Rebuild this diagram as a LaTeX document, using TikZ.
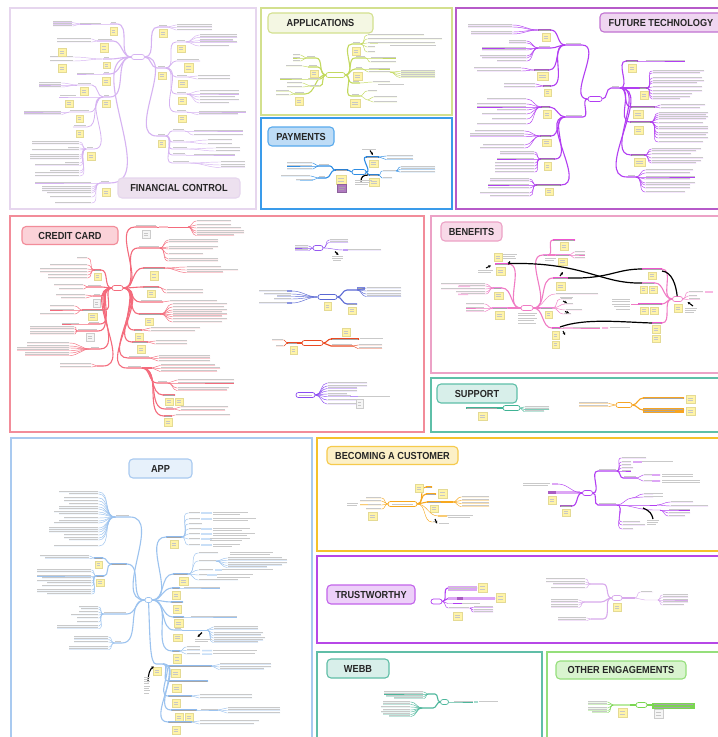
\documentclass[tikz,border=0pt]{standalone}
\usepackage{fontspec}
\setmainfont{Liberation Sans}
\usetikzlibrary{arrows.meta,calc}

% branch colours
\definecolor{fcC}{HTML}{D6B3F2}
\definecolor{apC}{HTML}{C3D95F}
\definecolor{apH}{HTML}{DDE9A8}
\definecolor{pyC}{HTML}{2E8DE4}
\definecolor{pyD}{HTML}{2B7FD0}
\definecolor{pyL}{HTML}{A9D2F5}
\definecolor{ftC}{HTML}{B23EF2}
\definecolor{ftD}{HTML}{A95BC2}
\definecolor{ftL}{HTML}{DDA6F5}
\definecolor{ccC}{HTML}{F46B7C}
\definecolor{ccD}{HTML}{EE7684}
\definecolor{cvA}{HTML}{9558F0}
\definecolor{cvB}{HTML}{5A68D4}
\definecolor{cvC}{HTML}{EA4A22}
\definecolor{cvD}{HTML}{8C4CF2}
\definecolor{bnC}{HTML}{F07BC4}
\definecolor{bnM}{HTML}{EE55CF}
\definecolor{bnH}{HTML}{F8B8E2}
\definecolor{spT}{HTML}{3FB394}
\definecolor{spO}{HTML}{F6A422}
\definecolor{abC}{HTML}{9CC3EF}
\definecolor{abD}{HTML}{8EB9EC}
\definecolor{abH}{HTML}{C9DFF7}
\definecolor{bcO}{HTML}{F7A81E}
\definecolor{bcH}{HTML}{F9CB73}
\definecolor{trL}{HTML}{D8A9EC}
\definecolor{wbT}{HTML}{4DB79C}
\definecolor{oeG}{HTML}{7AD651}
\definecolor{oeL}{HTML}{B9EBA0}
\definecolor{stY}{HTML}{FFF4A8}
\definecolor{stB}{HTML}{E4DA94}
\definecolor{stP}{HTML}{B07AC0}
% panel colours
\definecolor{pFin}{HTML}{E6D6EE}\definecolor{tFin}{HTML}{EDE1EF}
\definecolor{pApp}{HTML}{D3E08E}\definecolor{tApp}{HTML}{F4F7E3}
\definecolor{pPay}{HTML}{3A9BEA}\definecolor{tPay}{HTML}{BEDCF6}
\definecolor{pFut}{HTML}{B65AC9}\definecolor{tFut}{HTML}{EFD6F1}
\definecolor{pCC}{HTML}{F28C99}\definecolor{tCC}{HTML}{FBD2D8}
\definecolor{pBen}{HTML}{ECA2C6}\definecolor{tBen}{HTML}{F8D9E8}
\definecolor{pSup}{HTML}{5EBFA8}\definecolor{tSup}{HTML}{D8EFEA}
\definecolor{pAb}{HTML}{A9CAF0}\definecolor{tAb}{HTML}{E7F1FB}
\definecolor{pBec}{HTML}{F5C12C}\definecolor{tBec}{HTML}{FCF0C7}
\definecolor{pTru}{HTML}{B747E7}\definecolor{tTru}{HTML}{EDD0F9}
\definecolor{pWeb}{HTML}{60BEA7}\definecolor{tWeb}{HTML}{D8EFEA}
\definecolor{pOth}{HTML}{95DF7B}\definecolor{tOth}{HTML}{D9F4CF}

% helpers: a line of small text, a sticky note, a highlighted label, leaves
\newcommand\txl[3]{\draw[txt] ({#1},{#3}) -- ({#2},{#3});}
\newcommand\stk[4]{\draw[stky] (#1,#2) rectangle (#3,#4);
  \draw[stxt] ({#1+1.6},{#2+0.35*(#4-#2)}) -- ({#3-1.6},{#2+0.35*(#4-#2)})
              ({#1+1.6},{#2+0.65*(#4-#2)}) -- ({#3-2.4},{#2+0.65*(#4-#2)});}
\newcommand\stw[4]{\draw[stkw] (#1,#2) rectangle (#3,#4);
  \draw[stxt] ({#1+1.6},{#2+0.35*(#4-#2)}) -- ({#3-1.6},{#2+0.35*(#4-#2)})
              ({#1+1.6},{#2+0.65*(#4-#2)}) -- ({#3-2.4},{#2+0.65*(#4-#2)});}
\newcommand\hbx[4]{\fill[#1] ({#2},{#4-1.5}) rectangle ({#3},{#4+1.4});
  \draw[draw=black!35, line width=.45pt] ({#2+1},{#4-0.1}) -- ({#3-1},{#4-0.1});}
\newcommand\lfR[5]{\draw[lvs=#1] (#2) to[out=0,in=180] (#3,#4) -- ++(#5,0);
  \draw[txt] ({#3+0.8},{#4-1.1}) -- ({#3+#5},{#4-1.1});}
\newcommand\lfL[5]{\draw[lvs=#1] (#2) to[out=180,in=0] (#3,#4) -- ++(-#5,0);
  \draw[txt] ({#3-0.8},{#4-1.1}) -- ({#3-#5},{#4-1.1});}
\newcommand\ttltext[1]{\scalebox{0.9}[1]{#1}}

\begin{document}
\begin{tikzpicture}[x=1pt,y=-1pt,
  panel/.style={draw=#1, line width=1.6pt},
  ttl/.style={rounded corners=4pt, line width=1.1pt, inner sep=0pt, text=black!85,
    font=\fontsize{10.2}{12}\selectfont\bfseries},
  txt/.style={draw=black!21, line width=.55pt},
  stky/.style={fill=stY, draw=stB, line width=.35pt},
  stkw/.style={fill=black!4, draw=black!20, line width=.35pt},
  stxt/.style={draw=black!22, line width=.4pt},
  cen/.style={draw=#1, fill=white, rounded corners=2.4pt, line width=.7pt,
    minimum height=5pt, inner sep=0pt},
  brn/.style={draw=#1, line width=1.1pt},
  lvs/.style={draw=#1, line width=.45pt},
  blk/.style={draw=black, line width=1.2pt},
  arr/.style={draw=black, line width=1.1pt, -{Stealth[length=2.6pt,width=2.6pt]}}]

\useasboundingbox (0,0) rectangle (718,737);
\fill[white] (0,0) rectangle (718,737);

% ---------------- panels
\draw[panel=pFin] (10,8) rectangle (256,209);
\draw[panel=pApp] (261,8) rectangle (452,115);
\draw[panel=pPay] (261,118) rectangle (452,209);
\draw[panel=pFut] (456,8) rectangle (724,209);
\draw[panel=pCC] (10,216) rectangle (424,432);
\draw[panel=pBen] (431,216) rectangle (724,373);
\draw[panel=pSup] (431,378) rectangle (724,432);
\draw[panel=pAb] (11,438) rectangle (312,745);
\draw[panel=pBec] (317,438) rectangle (724,551);
\draw[panel=pTru] (317,556) rectangle (724,643);
\draw[panel=pWeb] (317,652) rectangle (542,745);
\draw[panel=pOth] (547,652) rectangle (724,745);

% ================= financial control
\node[cen=fcC, minimum width=13pt] (fc) at (138,57) {};
\coordinate (fcR1) at (168,27);
\coordinate (fcR2) at (166,68);
\coordinate (fcR3) at (166,136);
\draw[brn=fcC] (fc) to[out=0,in=180] (158,27) -- (fcR1);
\draw[brn=fcC] (fc) to[out=0,in=180] (157,68) -- (fcR2);
\draw[brn=fcC] (fc) to[out=0,in=180] (157,136) -- (fcR3);
\txl{159}{167}{25.6} \txl{158}{165}{66.6} \txl{158}{165}{134.6}
\stk{159}{29}{167}{37} \stk{158}{72}{166}{79} \stk{158}{140}{165}{147}
\foreach \y in {25,27.5,30}{\lfR{fcC}{fcR1}{176}{\y}{36}}
\foreach \y/\e/\n in {42/186/a,61/200/b,77/188/c,94/187/d,112/187/e}{
  \draw[brn=fcC, line width=.8pt] (fcR2) to[out=0,in=180] (176,\y) -- (\e,\y) coordinate (fcS\n);
  \txl{177}{\e-1}{\y-1.4}}
\stk{177}{45}{185}{52} \stk{184}{63}{193}{72} \stk{178}{80}{187}{87} \stk{178}{97}{186}{104} \stk{178}{115}{186}{122}
\foreach \y/\w in {35/38,37.3/38,40.7/34,42.7/38,46/30}{\lfR{fcC}{fcSa}{199}{\y}{\w}}
\foreach \y in {76,79}{\lfR{fcC}{fcSc}{197}{\y}{33}}
\foreach \y/\w in {91/40,94/40,97/36,100/40,103/30}{\lfR{fcC}{fcSd}{199}{\y}{\w}}
\foreach \y/\w in {112/48,114.5/40}{\lfR{fcC}{fcSe}{198}{\y}{\w}}
\foreach \y/\e/\n in {131/185/a,142/185/b,149/188/c,155/186/d,163/190/e}{
  \draw[brn=fcC, line width=.8pt] (fcR3) to[out=0,in=180] (172,\y) -- (\e,\y) coordinate (fcT\n);
  \txl{173}{\e-1}{\y-1.4}}
\foreach \y in {131,135}{\lfR{fcC}{fcTa}{193}{\y}{50}}
\foreach \y in {140,144}{\lfR{fcC}{fcTb}{207}{\y}{25}}
\foreach \y in {148,151}{\lfR{fcC}{fcTc}{215}{\y}{25}}
\lfR{fcC}{fcTd}{193}{155}{42}
\foreach \y in {162,165,167.5}{\lfR{fcC}{fcTe}{220}{\y}{25}}
% left side
\coordinate (fcL1) at (110,24);
\coordinate (fcL2) at (97,41);
\coordinate (fcL3) at (103,59);
\coordinate (fcL4) at (103,74);
\coordinate (fcL5) at (103,97);
\coordinate (fcL6) at (100,183);
\draw[brn=fcC] (fc) to[out=180,in=0] (117,24) -- (fcL1);
\draw[brn=fcC] (fc) to[out=180,in=0] (113,41) -- (fcL2);
\draw[brn=fcC] (fc) to[out=180,in=0] (110,59) -- (fcL3);
\draw[brn=fcC] (fc) to[out=180,in=0] (110,74) -- (fcL4);
\draw[brn=fcC] (fc) to[out=180,in=0] (110,97) -- (fcL5);
\draw[brn=fcC] (fc) to[out=180,in=0] (110,183) -- (fcL6);
\txl{111}{116}{22.6} \txl{98}{112}{39.6} \txl{104}{109}{57.6} \txl{104}{109}{72.6} \txl{104}{109}{95.6} \txl{101}{109}{181.6}
\stk{110}{27}{117}{35} \stk{100}{43}{108}{52} \stk{103}{62}{110}{68} \stk{102}{77}{110}{85} \stk{102}{100}{110}{107} \stk{102}{188}{110}{196}
\lfL{fcC}{fcL1}{102}{24}{22}
\coordinate (fcL1b) at (80,24);
\foreach \y in {22.7,24.3,26}{\lfL{fcC}{fcL1b}{73}{\y}{20}}
\foreach \y in {39,42}{\lfL{fcC}{fcL2}{92}{\y}{35}}
\foreach \y in {57,61}{\lfL{fcC}{fcL3}{74}{\y}{24}}
\stk{58}{48}{66}{56} \stk{58}{64}{66}{72}
\lfL{fcC}{fcL4}{95}{74}{18}
\foreach \x/\y/\w/\n in {92/85/15/a,77/97/18/b,90/112/21/c,87/127/14/d,94/149/8/e}{
  \draw[brn=fcC, line width=.8pt] (fcL5) to[out=180,in=0] (\x,\y) -- ++(-\w,0) coordinate (fcU\n);
  \txl{\x-\w+1}{\x-1}{\y-1.4}}
\stk{80}{87}{88}{95} \stk{65}{100}{73}{107} \stk{76}{115}{83}{122} \stk{76}{130}{83}{137} \stk{87}{152}{95}{160}
\foreach \y in {83,85,87}{\lfL{fcC}{fcUa}{62}{\y}{23}}
\foreach \y in {112,114.5}{\lfL{fcC}{fcUc}{62}{\y}{38}}
\foreach \y/\w in {142/48,144/48,148/12,150/48,155/50,157/50,159/50,163/15,165.5/45,171/30,173/45,176/45}{\lfL{fcC}{fcUe}{80}{\y}{\w}}
\foreach \y/\w in {183/57,187/50,189/50,191/50,193/45,197/42,203/37}{\lfL{fcC}{fcL6}{92}{\y}{\w}}

% ================= applications
\node[cen=apC, minimum width=19pt] (ap) at (335.5,75) {};
\draw[brn=apC] (ap) to[out=0,in=180] (352,44) -- (361,44) coordinate (apR1);
\draw[brn=apC] (ap) to[out=0,in=180] (355,58) -- (366,58) coordinate (apR2);
\draw[brn=apC] (ap) to[out=0,in=180] (355,69) -- (363,69) coordinate (apR3);
\draw[brn=apC] (ap) to[out=0,in=180] (352,83) -- (360,83) coordinate (apR4);
\draw[brn=apC] (ap) to[out=0,in=180] (351,96) -- (360,96) coordinate (apR5);
\txl{353}{360}{42.6} \txl{356}{365}{56.6} \txl{356}{362}{67.6} \txl{353}{359}{81.6} \txl{352}{359}{94.6}
\stk{352}{47}{360}{55} \stk{353}{72}{362}{80} \stk{350}{99}{360}{107}
\foreach \y/\w in {35/57,39/75,43/68,47/8,52/8}{\lfR{apC}{apR1}{367}{\y}{\w}}
\txl{390}{436}{45.5}
\fill[apH] (370,42.5) rectangle (378,44);
\foreach \y in {58,62}{\lfR{apC}{apR2}{370}{\y}{26}}
\foreach \y in {69,72}{\lfR{apC}{apR3}{368}{\y}{22}}
\coordinate (apR3b) at (390,72);
\foreach \y in {71.5,73.5,75.5,77.5}{\lfR{apC}{apR3b}{400}{\y}{35}}
\lfR{apC}{apR4}{372}{82}{18} \txl{378}{404}{84.5}
\lfR{apC}{apR5}{367}{91}{10}
\draw[lvs=apC] (apR5) to[out=0,in=180] (368,100) coordinate (apR5b);
\foreach \y in {97,102}{\lfR{apC}{apR5b}{373}{\y}{24}}
\draw[brn=apC] (ap) to[out=180,in=0] (316,58) -- (306,58) coordinate (apL1);
\draw[brn=apC] (ap) to[out=180,in=0] (318,67) -- (308,67) coordinate (apL2);
\draw[brn=apC] (ap) to[out=180,in=0] (320,79) -- (308,79) coordinate (apL3);
\draw[brn=apC] (ap) to[out=180,in=0] (320,86) -- (310,86) coordinate (apL4);
\draw[brn=apC] (ap) to[out=180,in=0] (305,94) -- (294,94) coordinate (apL5);
\fill[apH] (308,77.6) rectangle (320,80.2); \fill[apH] (310,84.6) rectangle (320,87.2);
\txl{307}{315}{56.6} \txl{309}{317}{65.6} \txl{309}{319}{78} \txl{311}{319}{85} \txl{295}{304}{92.6}
\stk{310}{70}{318}{77} \stk{295}{97}{303}{105}
\foreach \y in {55,58,61}{\lfL{apC}{apL1}{301}{\y}{8}}
\lfL{apC}{apL2}{303}{66}{17}
\lfL{apC}{apL3}{303}{79}{23}
\foreach \y in {83,87}{\lfL{apC}{apL4}{303}{\y}{16}}
\foreach \y in {91.5,95}{\lfL{apC}{apL5}{290}{\y}{14}}

% ================= payments
\node[cen=pyC, minimum width=14pt] (py) at (359,172) {};
\draw[brn=pyC] (py) to[out=180,in=0] (348,170) -- (335,170) coordinate (pyL);
\hbx{pyD}{335}{348}{170}
\stk{336}{175}{346}{184}
\draw[fill=stP, draw=stP!80!black, line width=.35pt] (337,184) rectangle (346,192);
\draw[draw=black!35, line width=.45pt] (338.5,187) -- (344.5,187) (338.5,189.5) -- (343.5,189.5);
\draw[brn=pyC] (pyL) to[out=180,in=0] (330,166) -- (318,166) coordinate (pyL1);
\draw[brn=pyC] (pyL) to[out=180,in=0] (326,178) -- (318,178) coordinate (pyL2);
\txl{319}{329}{164.6} \txl{319}{325}{176.6}
\foreach \y in {163,166,169}{\lfL{pyC}{pyL1}{313}{\y}{26}}
\lfL{pyC}{pyL2}{311}{176}{30}
\fill[pyL] (300,178.8) rectangle (313,180.6);
\lfL{pyC}{pyL2}{313}{180}{17}
\draw[brn=pyC] (py) to[out=0,in=180] (366,157) -- (379,157) coordinate (pyR1);
\hbx{pyD}{366}{379}{157}
\stk{369}{160}{378}{167}
\foreach \y in {156,159.5}{\lfR{pyC}{pyR1}{386}{\y}{27}}
\draw[arr] (370,150.5) -- (373,155);
\txl{362}{376}{149.4}
\draw[brn=pyC] (py) to[out=0,in=180] (369,175) -- (379,175) coordinate (pyR2);
\hbx{pyD}{369}{379}{175}
\stk{369}{178}{379}{186}
\lfR{pyC}{pyR2}{382}{171}{14}
\coordinate (pyR2b) at (396,171);
\foreach \y in {167,169.5,172}{\lfR{pyC}{pyR2b}{400}{\y}{35}}
\lfR{pyC}{pyR2}{382}{178}{10}
\draw[blk] (361,181.5) .. controls (361,177) and (363,175) .. (368,175);
\txl{355}{372}{180.5} \txl{355}{370}{182.5} \txl{355}{368}{184.5}

% ================= future technology
\node[cen=ftC, minimum width=14pt] (ft) at (595,99) {};
\draw[brn=ftC] (ft) to[out=180,in=0] (582,45) -- (565,45) coordinate (ftH1);
\draw[brn=ftC] (ft) to[out=180,in=0] (583,117) -- (565,117) coordinate (ftH2);
\txl{566}{581}{43.6} \txl{566}{582}{115.6}
\draw[brn=ftC] (ftH1) to[out=180,in=0] (551,30) -- (538,30) coordinate (ftA1);
\draw[brn=ftC] (ftH1) to[out=180,in=0] (551,48) -- (538,48) coordinate (ftA2);
\draw[brn=ftC] (ftH1) to[out=180,in=0] (549,70) -- (534,70) coordinate (ftA3);
\draw[brn=ftC] (ftH1) to[out=180,in=0] (551,86) -- (543,86) coordinate (ftA4);
\hbx{ftD}{538}{551}{30} \hbx{ftD}{534}{549}{70} \hbx{ftD}{543}{551}{86}
\txl{539}{550}{46.6}
\stk{542}{33}{550}{41} \stk{537}{72}{548}{80} \stk{544}{89}{551}{96}
\foreach \y/\w in {25/45,27/45,32/42,34/42}{\lfL{ftC}{ftA1}{513}{\y}{\w}}
\foreach \y/\w in {41/18,43/18,48/45,50/45,56/47,58/45,61/30}{\lfL{ftC}{ftA2}{527}{\y}{\w}}
\foreach \y/\w in {68/48,71/45}{\lfL{ftC}{ftA3}{522}{\y}{\w}}
\foreach \y/\w in {84/32,87/32}{\lfL{ftC}{ftA4}{536}{\y}{\w}}
\draw[brn=ftC] (ftH2) to[out=180,in=0] (550,107) -- (541,107) coordinate (ftB1);
\draw[brn=ftC] (ftH2) to[out=180,in=0] (551,136) -- (540,136) coordinate (ftB2);
\draw[brn=ftC] (ftH2) to[out=180,in=0] (555,159) -- (540,159) coordinate (ftB3);
\draw[brn=ftC] (ftH2) to[out=180,in=0] (561,185) -- (536,185) coordinate (ftB4);
\hbx{ftD}{541}{550}{107} \hbx{ftD}{540}{551}{136} \hbx{ftD}{540}{555}{159} \hbx{ftD}{536}{561}{185}
\stk{543}{110}{551}{118} \stk{542}{139}{551}{146} \stk{544}{162}{551}{170} \stk{545}{188}{553}{195}
\foreach \y/\w in {99/40,104/50,107/50,110/30,114/45,119/35,124/50}{\lfL{ftC}{ftB1}{527}{\y}{\w}}
\foreach \y/\w in {131/50,134/55,136.5/55,145/42,148/45}{\lfL{ftC}{ftB2}{525}{\y}{\w}}
\foreach \y/\w in {152/35,154/35,159/38,163/40,166/40,169/40,172/40}{\lfL{ftC}{ftB3}{535}{\y}{\w}}
\foreach \y/\w in {179/40,181/40,185/42,188/42,193/50,196/40}{\lfL{ftC}{ftB4}{530}{\y}{\w}}
\draw[brn=ftC] (ft) to[out=0,in=180] (611,88) -- (620,88) coordinate (ftH3);
\txl{612}{619}{86.6}
\draw[brn=ftC] (ftH3) to[out=0,in=180] (626,61) -- (638,61) coordinate (ftC1);
\draw[brn=ftC] (ftH3) -- (639,88) -- (647,88) coordinate (ftC2);
\draw[brn=ftC] (ftH3) to[out=0,in=180] (631,107) -- (655,107) coordinate (ftC3);
\draw[brn=ftC] (ftH3) to[out=0,in=180] (630,122) -- (651,122) coordinate (ftC4);
\draw[brn=ftC] (ftH3) to[out=0,in=180] (631,155) -- (645,155) coordinate (ftC5);
\draw[brn=ftC] (ftH3) to[out=0,in=180] (627,177) -- (636,177) coordinate (ftC6);
\hbx{ftD}{626}{638}{61} \hbx{ftD}{639}{647}{88} \hbx{ftD}{631}{655}{107} \hbx{ftD}{630}{651}{122} \hbx{ftD}{631}{645}{155}
\txl{628}{635}{175.6}
\stk{628}{64}{636}{72} \stk{640}{91}{648}{99} \stk{633}{110}{643}{118} \stk{634}{126}{643}{134} \stk{634}{158}{645}{166}
\lfR{ftC}{ftC1}{645}{61}{40}
\foreach \y/\w in {71/52,73/48,78/50,81/52,83/45,87/50,91/50,94/40,97/38,99/28}{\lfR{ftC}{ftC2}{652}{\y}{\w}}
\foreach \y/\w in {105/45,108/40}{\lfR{ftC}{ftC3}{660}{\y}{\w}}
\foreach \y/\w in {113/50,115/48,117/50,119/48,123/45,127/50,129/50,133/50,135/48,138/50,142/45}{\lfR{ftC}{ftC4}{658}{\y}{\w}}
\foreach \y/\w in {149/50,151/45,154/40,158/52,161/50,163/45}{\lfR{ftC}{ftC5}{651}{\y}{\w}}
\foreach \y/\w in {170/48,173/45,177/50,179/45,183/50,185/45,188/45,192/40}{\lfR{ftC}{ftC6}{645}{\y}{\w}}

% ================= credit card
\node[cen=ccC, minimum width=11pt] (cc) at (117.5,288) {};
\draw[brn=ccC] (cc) to[out=180,in=0] (101,270) -- (94,270) coordinate (ccL1);
\hbx{ccD}{94}{101}{270} \stk{94}{273}{101}{280}
\foreach \y/\w in {258/11,265/38,269/48,272/48,275/40,278/40}{\lfL{ccC}{ccL1}{88}{\y}{\w}}
\draw[brn=ccC] (cc) to[out=180,in=0] (102,287) -- (87,287) coordinate (ccL2);
\txl{88}{101}{285.6}
\foreach \y/\w in {285/30,289/25}{\lfL{ccC}{ccL2}{84}{\y}{\w}}
\draw[brn=ccC] (cc) to[out=180,in=0] (101,296) -- (93,296) coordinate (ccL3);
\txl{94}{100}{294.6}
\foreach \y/\w in {295/30,298/25}{\lfL{ccC}{ccL3}{86}{\y}{\w}}
\stw{93}{299}{100}{307}
\draw[brn=ccC] (cc) to[out=180,in=0] (105,310) -- (82,310) coordinate (ccL4);
\hbx{ccD}{82}{105}{310} \stk{88}{313}{97}{320}
\foreach \y/\w in {306/25,310/25,314/35}{\lfL{ccC}{ccL4}{75}{\y}{\w}}
\draw[brn=ccC] (cc) to[out=180,in=0] (100,324) -- (88,324) coordinate (ccL5);
\txl{89}{99}{322.6}
\lfL{ccC}{ccL5}{80}{324}{18}
\draw[brn=ccC] (cc) to[out=180,in=0] (98,331) -- (77,331) coordinate (ccL6);
\txl{78}{97}{329.6}
\foreach \y in {327,329,332,334}{\lfL{ccC}{ccL6}{75}{\y}{45}}
\stw{86}{333}{94}{341}
\draw[brn=ccC] (cc) to[out=180,in=0] (100,349) -- (90,349) coordinate (ccL7);
\txl{91}{99}{347.6}
\foreach \y/\w in {343/43,346/43,348/53,350.5/53,353/45,355.5/45}{\lfL{ccC}{ccL7}{70}{\y}{\w}}
\draw[brn=ccC] (cc) to[out=180,in=0] (103,366) -- (97,366) coordinate (ccL8);
\foreach \y in {364,367}{\lfL{ccC}{ccL8}{92}{\y}{32}}
\draw[brn=ccC] (cc) to[out=0,in=180] (135,227) -- (157,227) coordinate (ccR1);
\txl{136}{156}{225.6} \stw{142}{230}{150}{238}
\draw[lvs=ccC] (ccR1) -- (188,227) coordinate (ccR1b);
\fill[ccC!45] (159,226.2) rectangle (168,227.8);
\foreach \y/\w in {221/35,225/35,228/45,231/48,233/48,235.5/38}{\lfR{ccC}{ccR1b}{196}{\y}{\w}}
\draw[brn=ccC] (cc) to[out=0,in=180] (138,248) -- (160,248) coordinate (ccR2);
\txl{139}{159}{246.6}
\foreach \y/\w in {240/50,242/50,247/50,249/45,254/35,259/50,261/50}{\lfR{ccC}{ccR2}{168}{\y}{\w}}
\draw[brn=ccC] (cc) to[out=0,in=180] (143,268) -- (165,268) coordinate (ccR3);
\hbx{ccD}{143}{165}{268} \stk{150}{271}{158}{280}
\foreach \y/\w in {267/35,270/52,272.5/37}{\lfR{ccC}{ccR3}{186}{\y}{\w}}
\draw[brn=ccC] (cc) to[out=0,in=180] (143,287) -- (159,287) coordinate (ccR4);
\hbx{ccD}{143}{159}{287} \stk{147}{290}{155}{297}
\foreach \y in {290,293}{\lfR{ccC}{ccR4}{166}{\y}{37}}
\draw[brn=ccC] (cc) to[out=0,in=180] (140,302) -- (163,302) coordinate (ccR5);
\txl{141}{162}{300.6}
\lfR{ccC}{ccR5}{169}{301}{48}
\draw[brn=ccC] (cc) to[out=0,in=180] (139,314) -- (161,314) coordinate (ccR6);
\hbx{ccD}{139}{161}{314} \stk{145}{318}{153}{325}
\foreach \y/\w in {304/55,307/52,310/55,312/50,314.5/55,316.5/50,319/55,322/50}{\lfR{ccC}{ccR6}{172}{\y}{\w}}
\draw[brn=ccC] (cc) to[out=0,in=180] (134,330) -- (142,330) coordinate (ccR7);
\hbx{ccD}{134}{142}{330} \stk{135}{333}{143}{341}
\foreach \y/\w in {328/50,331/45}{\lfR{ccC}{ccR7}{150}{\y}{\w}}
\draw[brn=ccC] (cc) to[out=0,in=180] (132,342) -- (148,342) coordinate (ccR8);
\hbx{ccD}{132}{148}{342} \stk{137}{345}{145}{353}
\foreach \y in {341,344}{\lfR{ccC}{ccR8}{155}{\y}{32}}
\draw[brn=ccC] (cc) to[out=0,in=180] (128,358) -- (150,358) coordinate (ccR9);
\txl{129}{149}{356.6}
\foreach \y in {356,358.5,361}{\lfR{ccC}{ccR9}{158}{\y}{52}}
\draw[brn=ccC] (cc) to[out=0,in=180] (127,368) -- (142,368) coordinate (ccRa);
\txl{128}{141}{366.6}
\draw[brn=ccC] (ccRa) -- (152,368) coordinate (ccRa0);
\foreach \y/\w in {365.5/55,368.5/60,371.5/57}{\lfR{ccC}{ccRa0}{160}{\y}{\w}}
\draw[brn=ccC] (ccRa) to[out=0,in=180] (157,383) -- (168,383) coordinate (ccRa1);
\txl{158}{167}{381.6}
\foreach \y/\w in {380/57,383/57,388/52,390.5/50}{\lfR{ccC}{ccRa1}{177}{\y}{\w}}
\draw[brn=ccC] (ccRa) to[out=0,in=180] (163,395) -- (175,395) coordinate (ccRa2);
\hbx{ccD}{163}{175}{395} \stk{165}{398}{173}{405} \stk{175}{398}{183}{405}
\draw[brn=ccC] (ccRa) to[out=0,in=180] (165,409) -- (174,409) coordinate (ccRa3);
\txl{166}{173}{407.6}
\foreach \y/\w in {407/48,410.5/45}{\lfR{ccC}{ccRa3}{180}{\y}{\w}}
\draw[brn=ccC] (ccRa) to[out=0,in=180] (164,416) -- (172,416) coordinate (ccRa4);
\hbx{ccD}{164}{172}{416} \stk{164}{418}{172}{426}
\lfR{ccC}{ccRa4}{175}{415}{55}
% small maps beside the card map
\node[cen=cvA, minimum width=10pt] (cA) at (318,248) {};
\foreach \y in {240,242.5}{\lfR{cvA}{cA}{329}{\y}{19}}
\lfR{cvA}{cA}{343}{250}{38}
\fill[cvA!60] (343,249.2) rectangle (348,250.8);
\foreach \y in {246,248,250.5}{\lfL{cvA}{cA}{309}{\y}{14}}
\draw[arr] (335,251.5) -- (338.5,255);
\txl{332}{343}{256.5} \txl{332}{343}{258.2} \txl{333}{341}{259.8}
\node[cen=cvB, minimum width=19pt] (cB) at (327.5,297) {};
\stk{324}{302}{331}{310}
\foreach \y/\w in {291/33,294/28,296.5/15,299/18,303/33}{\lfL{cvB}{cB}{292}{\y}{\w}}
\fill[cvB!70] (287,290.2) rectangle (292,291.8) (287,302.2) rectangle (292,303.8);
\draw[brn=cvB] (cB) to[out=0,in=180] (347,290) -- (357,290) coordinate (cB1);
\hbx{cvB!80}{357}{365}{288.5}
\foreach \y in {288,291,294,296.5}{\lfR{cvB}{cB1}{366}{\y}{35}}
\draw[brn=cvB] (cB) to[out=0,in=180] (347,304) -- (357,304);
\hbx{cvB!70}{347}{357}{304} \stk{348}{307}{356}{314}
\node[cen=cvC, minimum width=21pt] (cC) at (312.5,343) {};
\draw[brn=cvC] (cC) to[out=180,in=0] (298,343) -- (287,343) coordinate (cC1);
\hbx{cvC}{287}{298}{343} \stk{290}{346}{297}{354}
\lfL{cvC}{cC1}{284}{340}{12} \lfL{cvC}{cC1}{284}{346}{8}
\draw[brn=cvC] (cC) to[out=0,in=180] (331,339) -- (359,339) coordinate (cC2);
\hbx{cvC}{331}{359}{339} \txl{360}{383}{338.6} \stk{342}{328}{350}{336}
\draw[brn=cvC] (cC) to[out=0,in=180] (331,346) -- (353,346) coordinate (cC3);
\txl{332}{352}{344.6}
\foreach \y in {345,348.5}{\lfR{cvC}{cC3}{358}{\y}{24}}
\node[cen=cvD, minimum width=19pt] (cD) at (305.5,395) {};
\txl{299}{312}{394.8}
\foreach \y/\w in {383/40,386/40,388.5/30,391/30,394/20,396.5/24,400/30,404/33}{\lfR{cvD}{cD}{327}{\y}{\w}}
\fill[cvD!60] (350,395.8) rectangle (358,397.3); \txl{358}{390}{396}
\stw{356}{399}{363}{408}

% ================= benefits
\node[cen=bnC, minimum width=12pt] (bn) at (527,308) {};
\node[cen=bnC, minimum width=10pt] (bn2) at (677.5,299) {};
\draw[brn=bnC] (bn) to[out=180,in=0] (508,264) -- (495,264) coordinate (bnL1);
\hbx{bnM}{495}{508}{264}
\stk{496}{267}{505}{275} \stk{494}{253}{502}{261}
\txl{503}{517}{254.5} \txl{503}{515}{256.5} \txl{503}{516}{258.5}
\draw[arr] (486,268) -- (491,265.5);
\txl{478}{493}{269.8} \txl{478}{491}{272}
\draw[brn=bnC] (bn) to[out=180,in=0] (502,288) -- (493,288) coordinate (bnL2);
\hbx{bnM!70}{493}{502}{288} \stk{494}{292}{503}{299}
\foreach \y/\w in {284/45,286/27,289/45,292/30,294/25}{\lfL{bnC}{bnL2}{486}{\y}{\w}}
\fill[bnH] (458,285.5) rectangle (470,287) (458,293.5) rectangle (468,295);
\draw[brn=bnC] (bn) to[out=180,in=0] (508,308) -- (492,308) coordinate (bnL3);
\hbx{bnM!70}{492}{508}{308} \stk{495}{311}{504}{319}
\foreach \y in {304,308,311.5}{\lfL{bnC}{bnL3}{485}{\y}{19}}
\foreach \y/\w in {313/19,315.5/17,318/19,320.5/16,323/18}{\txl{518}{518+\w}{\y}}
\draw[brn=bnC] (bn) to[out=0,in=180] (543,255) -- (548,255) coordinate (bnU);
\hbx{bnM!70}{543}{548}{255}
\draw[brn=bnC] (bnU) to[out=0,in=180] (553,240) -- (575,240);
\hbx{bnM}{553}{575}{240} \stk{560}{242}{568}{250}
\draw[brn=bnC] (bnU) -- (555,255) -- (570,255) coordinate (bnU2);
\hbx{bnM!70}{555}{570}{255} \stk{558}{258}{567}{265}
\foreach \y in {252,255,258}{\lfR{bnC}{bnU2}{574}{\y}{11}}
\txl{545}{556}{258} \txl{545}{554}{260.5}
\draw[brn=bnC] (bn) to[out=0,in=180] (553,278) -- (568,278) coordinate (bnM1);
\hbx{bnM}{553}{568}{278} \stk{556}{282}{565}{290}
\draw[arr] (560,276) -- (563,272);
\lfR{bnC}{bn}{555}{294}{43}
\draw[brn=bnC] (bn) to[out=0,in=180] (540,308) -- (553,308) coordinate (bnM3);
\hbx{bnM!70}{540}{553}{308} \stk{545}{311}{552}{318}
\lfR{bnC}{bnM3}{560}{299}{12} \lfR{bnC}{bnM3}{565}{304}{8} \lfR{bnC}{bnM3}{565}{310}{17} \lfR{bnC}{bnM3}{563}{314}{8}
\txl{560}{573}{297.3}
\draw[arr] (563,301) -- (567,303); \draw[arr] (565,311.5) -- (569,313);
\draw[brn=bnC] (bn) to[out=0,in=180] (552,328) -- (560,328) coordinate (bnM4);
\hbx{bnM}{552}{560}{328} \stk{552}{331}{559}{339} \stk{552}{341}{559}{348}
\lfR{bnC}{bnM4}{562}{328}{38}
\fill[bnH] (564,327.2) rectangle (573,328.8) (602,327.2) rectangle (608,328.8);
\txl{610}{630}{327}
\draw[arr] (563,331) -- (565,335);
% right hub
\draw[brn=bnC] (bn2) to[out=180,in=0] (662,269) -- (642,269) coordinate (bnV1);
\hbx{bnM}{642}{662}{269} \stk{648}{272}{656}{279}
\draw[brn=bnC] (bn2) to[out=180,in=0] (655,283) -- (642,283) coordinate (bnV2);
\hbx{bnM!70}{642}{655}{283} \stk{640}{286}{647}{293} \stk{649}{286}{657}{293}
\draw[brn=bnC] (bn2) to[out=180,in=0] (662,304) -- (638,304) coordinate (bnV3);
\hbx{bnM}{638}{662}{304} \stk{640}{307}{648}{314} \stk{650}{307}{658}{314}
\draw[lvs=bnC] (bnV3) -- (631,304);
\foreach \y/\w in {299/18,301.5/18,304/18,306.5/16,309/14}{\txl{630-\w}{630}{\y}}
\draw[brn=bnC] (bn2) to[out=180,in=0] (662,323) -- (652,323) coordinate (bnV4);
\hbx{bnM}{652}{662}{323} \stk{652}{325}{660}{333} \stk{652}{335}{660}{342}
\stk{674}{304}{682}{312}
\lfR{bnC}{bn2}{688}{292}{15}
\fill[bnH] (705,291.2) rectangle (713,292.8);
\lfR{bnC}{bn2}{688}{296}{9} \lfR{bnC}{bn2}{688}{299.5}{12}
\txl{685}{697}{308} \txl{685}{696}{310} \txl{685}{694}{312}
\draw[arr] (693,306) -- (687.5,302);
% black links across the map
\coordinate (bk1) at (509,263.5);
\draw[blk] (bk1) .. controls (585,262) and (600,284) .. (bnV2);
\draw[blk] (bnM1) .. controls (610,279) and (615,269) .. (bnV1);
\draw[blk] (662,271) .. controls (672,272) and (676,285) .. (bn2);
\draw[blk] (560,327) .. controls (585,318) and (620,322) .. (bnV4);
\draw[arr] (508.5,264.5) -- (510,261);

% ================= support
\node[cen=spT, minimum width=17pt] (st) at (511.5,408) {};
\draw[brn=spT] (st) -- (498,408) coordinate (stL);
\hbx{spT}{466}{498}{408}
\stk{478}{412}{487}{420}
\foreach \y/\w in {407/25,409.3/25,411.5/20}{\lfR{spT}{st}{524}{\y}{\w}}
\node[cen=spO, minimum width=16pt] (so) at (624,405) {};
\foreach \y in {403.5,406.5}{\lfL{spO}{so}{609}{\y}{30}}
\draw[brn=spO] (so) to[out=0,in=180] (643,398) -- (684,398);
\hbx{spO}{643}{684}{398}
\draw[brn=spO] (so) to[out=0,in=180] (643,410) -- (684,410);
\fill[spO] (643,407.8) rectangle (684,412.6);
\draw[draw=black!35, line width=.45pt] (644,409.3) -- (683,409.3) (644,411.4) -- (675,411.4);
\stk{686}{395}{695}{403} \stk{686}{407}{695}{415}

% ================= app
\node[cen=abC, minimum width=7pt] (ab) at (148.5,600) {};
\draw[brn=abC] (ab) to[out=180,in=0] (130,517) -- (115,517) coordinate (abL1);
\txl{116}{129}{515.6}
\foreach \y/\w in {492/40,494/30,498/35,501/35,504/30,507/40,509/40,512/45,514/40,518/35,521/40,523/45,528/50,530/50,532/50,535/35,538/35,540/30,546/45}{\lfL{abC}{abL1}{99}{\y}{\w}}
\draw[brn=abC] (ab) to[out=180,in=0] (127,564) -- (111,564) coordinate (abL2);
\hbx{abD}{111}{127}{564}
\draw[brn=abC] (abL2) to[out=180,in=0] (103,558) -- (94,558) coordinate (abL2a);
\draw[brn=abC] (abL2) to[out=180,in=0] (104,576) -- (96,576) coordinate (abL2b);
\hbx{abD}{94}{103}{558} \hbx{abD}{96}{104}{576}
\stk{95}{561}{102}{568} \stk{96}{579}{104}{586}
\foreach \y/\w in {556/50,558.5/45}{\lfL{abC}{abL2a}{90}{\y}{\w}}
\foreach \y/\w in {570/55,572/55,576/55,578/50,581/55,583/45,586/50,590/55,592/55,594/45}{\lfL{abC}{abL2b}{92}{\y}{\w}}
\draw[brn=abC] (ab) to[out=180,in=0] (127,614) -- (103,614) coordinate (abL3);
\txl{104}{126}{612.6}
\foreach \y/\w in {607/20,609/18,612/20,615/28,618/22,622/22,626/42,628.5/42}{\lfL{abC}{abL3}{99}{\y}{\w}}
\draw[brn=abC] (ab) to[out=180,in=0] (122,643) -- (114,643) coordinate (abL4);
\txl{115}{121}{641.6}
\foreach \y/\w in {637/35,639.5/35,642/35,647/40,649.5/40}{\lfL{abC}{abL4}{109}{\y}{\w}}
\draw[brn=abC] (ab) to[out=0,in=180] (166,537) -- (182,537) coordinate (abR1);
\hbx{abD}{166}{182}{537} \stk{170}{540}{178}{548}
\foreach \y/\w in {513/12,519/12,524/14,529/14,534/12,539/12,545/12}{\lfR{abC}{abR1}{188}{\y}{\w}}
\foreach \y/\a/\b in {513/213/248,519/213/256,529/213/250,534/213/255,539/210/250,545/213/240}{
  \fill[abH] (201,{\y-0.8}) rectangle (212,{\y+0.8}); \txl{\a}{\b}{\y-0.5} \txl{\a}{\b-8}{\y+1.5}}
\draw[brn=abC] (ab) to[out=0,in=180] (173,574) -- (188,574) coordinate (abR2);
\hbx{abD}{173}{188}{574} \stk{179}{577}{188}{585}
\foreach \y/\w in {553/20,561/18,570/15,575/15,580/40}{\lfR{abC}{abR2}{198}{\y}{\w}}
\txl{230}{273}{552} \txl{230}{270}{554.5}
\coordinate (abR2b) at (216,561);
\foreach \y/\w in {558/55,560.5/60,563/60,565.5/55,567.5/40}{\lfR{abC}{abR2b}{227}{\y}{\w}}
\fill[abH] (215,569.2) rectangle (222,570.8); \txl{222}{273}{569.5}
\fill[abH] (207,574.2) rectangle (217,575.8); \txl{217}{253}{574.5} \txl{217}{250}{577}
\draw[brn=abC] (ab) to[out=0,in=180] (172,588) -- (180,588) coordinate (abR3);
\hbx{abD}{172}{180}{588} \stk{172}{591}{180}{599}
\lfR{abC}{abR3}{183}{588}{37}
\draw[brn=abC] (ab) to[out=0,in=180] (171,602) -- (183,602) coordinate (abR4);
\hbx{abD}{171}{183}{602} \stk{173}{605}{181}{613}
\draw[brn=abC] (ab) to[out=0,in=180] (173,617) -- (184,617) coordinate (abR5);
\hbx{abD}{173}{184}{617} \stk{174}{619}{183}{627}
\lfR{abC}{abR5}{190}{617}{47}
\draw[brn=abC] (ab) to[out=0,in=180] (174,630) -- (182,630) coordinate (abR6);
\txl{175}{181}{628.6} \stk{173}{634}{182}{641}
\draw[lvs=abC] (abR6) -- (207,630) coordinate (abR6b);
\foreach \y/\w in {627/45,629.5/45,633/50,635.5/48,638/52,640.5/50,642.5/45}{\lfR{abC}{abR6b}{213}{\y}{\w}}
\draw[arr] (202,632.5) -- (197.5,637);
\txl{195}{212}{638.8} \txl{195}{208}{640.8}
\draw[brn=abC] (ab) to[out=0,in=180] (172,651) -- (180,651) coordinate (abR7);
\hbx{abD}{172}{180}{651} \stk{173}{654}{181}{663}
\foreach \y in {647,650.5,654}{\lfR{abC}{abR7}{186}{\y}{14}}
\fill[abH] (202,649.8) rectangle (212,651.4) (202,653.3) rectangle (212,654.9);
\txl{213}{257}{650} \txl{213}{255}{653.5}
% lower trunk
\coordinate (abW) at (163,664);
\draw[brn=abC] (ab) .. controls (150,640) and (150,664) .. (156,664) -- (abW);
\stk{153}{667}{161}{675}
\draw[arr] (148,682) .. controls (148,674) and (150,669) .. (154,666.5);
\foreach \y/\w in {677/6,679/5,681/6,683.5/5,686/6,688/5,690.5/6,693/5}{\txl{144}{144+\w}{\y}}
\draw[brn=abC] (abW) to[out=0,in=180] (168,666) -- (212,666) coordinate (abW1);
\hbx{abD}{168}{212}{666} \stk{171}{669}{180}{677}
\foreach \y/\w in {664.5/52,667/52,669.5/45}{\lfR{abC}{abW1}{219}{\y}{\w}}
\draw[brn=abC] (abW) to[out=0,in=180] (168,681) -- (208,681) coordinate (abW2);
\hbx{abD}{168}{208}{681} \stk{172}{684}{181}{692}
\draw[brn=abC] (abW) to[out=0,in=180] (168,696) -- (192,696) coordinate (abW3);
\hbx{abD}{168}{192}{696} \stk{172}{699}{180}{707}
\foreach \y in {695,698}{\lfR{abC}{abW3}{199}{\y}{53}}
\draw[brn=abC] (abW) to[out=0,in=180] (171,710) -- (197,710) coordinate (abW4);
\hbx{abD}{171}{197}{710} \stk{175}{713}{183}{721} \stk{185}{713}{193}{721}
\lfR{abC}{abW4}{200}{710}{18}
\coordinate (abW4b) at (218,710);
\foreach \y in {708,710.5,713}{\lfR{abC}{abW4b}{227}{\y}{53}}
\draw[brn=abC] (abW) to[out=0,in=180] (168,722) -- (192,722) coordinate (abW5);
\hbx{abD}{168}{192}{722} \stk{172}{726}{180}{734}
\foreach \y/\w in {721/60,724/55}{\lfR{abC}{abW5}{199}{\y}{\w}}

% ================= becoming a customer
\node[cen=bcO, minimum width=29pt] (bo) at (402.5,504) {};
\txl{392}{413}{503.8}
\foreach \y/\w in {498/16,501/22,505/22,509/16}{\lfL{bcO}{bo}{382}{\y}{\w}}
\fill[bcH] (360,503.6) rectangle (368,505.4);
\txl{347}{358}{503.5} \txl{347}{357}{505.7}
\stk{368}{512}{377}{520}
\draw[brn=bcO] (bo) to[out=0,in=180] (426,487) -- (432,487) coordinate (bo1);
\hbx{bcO}{426}{432}{487} \stk{415}{484}{423}{492}
\draw[brn=bcO] (bo) to[out=0,in=180] (426,494) -- (436,494) coordinate (bo2);
\hbx{bcO}{426}{436}{494} \stk{438}{489}{447}{498}
\draw[brn=bcO] (bo) to[out=0,in=180] (427,502) -- (442,502) coordinate (bo3);
\hbx{bcO}{427}{442}{502} \stk{430}{505}{438}{512}
\draw[brn=bcO] (bo3) -- (453,502) coordinate (bo3b);
\foreach \y in {497,500.5,503.5,506.5}{\lfR{bcO}{bo3b}{461}{\y}{28}}
\lfR{bcO}{bo}{438}{516}{10}
\fill[bcH] (438,515.2) rectangle (447,516.8);
\txl{448}{473}{515.5} \txl{448}{470}{517.5}
\lfR{bcO}{bo}{432}{522}{3}
\draw[arr] (435,519) -- (437,523.5);
\txl{439}{449}{523}
% second map of the panel
\node[cen=ftC, minimum width=10pt] (bp) at (587.5,493) {};
\draw[brn=ftC] (bp) -- (580,493) coordinate (bpL);
\fill[ftL] (548,491.4) rectangle (580,494.4); \fill[ftD] (548,491.4) rectangle (556,494.4);
\stk{548}{496}{556}{504}
\draw[lvs=ftC] (bp) to[out=180,in=0] (558,484) -- (552,484);
\fill[ftL] (552,483.2) rectangle (558,484.8);
\txl{523}{550}{483} \txl{523}{548}{485.2}
\draw[brn=ftC] (bp) to[out=180,in=0] (572,506) -- (560,506) coordinate (bpL2);
\hbx{ftD}{560}{572}{506} \stk{562}{509}{570}{516}
\draw[brn=ftC] (bp) to[out=0,in=180] (598,471) -- (617,471) coordinate (bpU);
\txl{599}{616}{469.6}
\foreach \y/\w in {458/25,462/10,465/10,468/12,471/10}{\lfR{ftC}{bpU}{621}{\y}{\w}}
\fill[ftL] (633,461.2) rectangle (642,462.8); \txl{642}{673}{461.5}
\draw[brn=ftC] (bpU) to[out=0,in=180] (623,478) -- (637,478) coordinate (bpU2);
\txl{624}{636}{476.6}
\foreach \y in {475,481}{\lfR{ftC}{bpU2}{643}{\y}{17}}
\fill[ftL] (652,474.2) rectangle (660,475.8) (652,480.2) rectangle (660,481.8);
\txl{662}{693}{474} \txl{662}{693}{476} \txl{662}{700}{480} \txl{662}{700}{482}
\draw[brn=ftC] (bp) to[out=0,in=180] (598,505) -- (617,505) coordinate (bpD);
\txl{599}{616}{503.6}
\foreach \y/\w in {522/18,525/23,529/11}{\lfR{ftC}{bpD}{622}{\y}{\w}}
\draw[lvs=ftC] (bpD) to[out=0,in=180] (632,498) coordinate (bpD1);
\foreach \y in {494,497}{\lfR{ftC}{bpD1}{643}{\y}{10}}
\txl{653}{663}{493.5} \txl{653}{663}{496.5}
\draw[lvs=ftC] (bpD) to[out=0,in=180] (643,505) -- (657,505) coordinate (bpD2);
\foreach \y/\w in {502/23,506/38}{\lfR{ftC}{bpD2}{670}{\y}{\w}}
\draw[lvs=ftC] (bpD) to[out=0,in=180] (653,510) -- (660,510) coordinate (bpD3);
\foreach \y/\w in {510/22,513/22,516/17}{\lfR{ftC}{bpD3}{668}{\y}{\w}}
\draw[blk] (643,508) .. controls (650,511) and (652,514) .. (653,519);
\txl{647}{659}{520.5} \txl{647}{658}{522.5} \txl{647}{656}{524.5}

% ================= trustworthy
\node[cen=ftC, minimum width=11pt] (tp) at (436.5,601.5) {};
\draw[brn=ftC] (tp) to[out=0,in=180] (448,588) -- (477,588);
\fill[ftL] (448,585.8) rectangle (477,590.8);
\txl{449}{476}{587} \txl{449}{470}{589.5}
\stk{478}{583}{487}{592}
\draw[brn=ftC] (tp) to[out=0,in=180] (448,598.5) -- (495,598.5);
\fill[ftL] (448,597.2) rectangle (495,600); \fill[ftD] (457,597.2) rectangle (463,600);
\stk{496}{593}{505}{602}
\draw[lvs=ftC] (tp) to[out=0,in=180] (448,603.5) -- (453,603.5) coordinate (tp3);
\fill[ftC] (453,602.8) rectangle (462,604.2); \txl{462}{480}{603}
\draw[lvs=ftC] (tp) to[out=0,in=180] (448,608) -- (470,608) coordinate (tp4);
\txl{449}{469}{607}
\foreach \y in {607.5,610,612}{\lfR{ftC}{tp4}{473}{\y}{20}}
\stk{453}{612}{462}{620}
\node[cen=trL, minimum width=10pt] (tq) at (617,598) {};
\stk{613}{603}{621}{611}
\draw[brn=trL] (tq) to[out=180,in=0] (603,584) -- (590,584) coordinate (tqL1);
\foreach \y/\w in {579/40,582/40,584.5/33,588/35}{\lfL{trL}{tqL1}{586}{\y}{\w}}
\draw[brn=trL] (tq) to[out=180,in=0] (601,602) -- (584,602) coordinate (tqL2);
\foreach \y in {600,602.5,605,607.5}{\lfL{trL}{tqL2}{579}{\y}{28}}
\draw[brn=trL] (tq) to[out=180,in=0] (603,619) -- (591,619) coordinate (tqL3);
\foreach \y in {618,620.5}{\lfL{trL}{tqL3}{587}{\y}{29}}
\draw[brn=trL] (tq) -- (635,598) coordinate (tqR);
\draw[lvs=trL] (tqR) to[out=0,in=180] (640,592) -- (653,592);
\txl{641}{652}{590.9}
\draw[lvs=trL] (tqR) to[out=0,in=180] (645,600) -- (658,600) coordinate (tqR2);
\foreach \y/\w in {595/26,597.5/26,600/26,602.5/26,605/22}{\lfR{trL}{tqR2}{662}{\y}{\w}}

% ================= webb
\node[cen=wbT, minimum width=8pt] (wb) at (444.5,702) {};
\lfR{wbT}{wb}{453}{702}{20}
\fill[wbT!50] (474,701.2) rectangle (478,702.8); \txl{479}{498}{701.5}
\draw[brn=wbT] (wb) to[out=180,in=0] (435,694) -- (428,694) coordinate (wbL1);
\foreach \y/\w in {692/40,694/40,696.5/38,698.5/30}{\lfL{wbT}{wbL1}{424}{\y}{\w}}
\draw[brn=wbT] (wb) to[out=180,in=0] (433,708) -- (422,708) coordinate (wbL2);
\foreach \y/\w in {702/28,704.5/28,707/30,710/28,712/30,714.5/28,716.5/22}{\lfL{wbT}{wbL2}{411}{\y}{\w}}

% ================= other engagements
\node[cen=oeG, minimum width=11pt] (oe) at (641.5,705) {};
\draw[brn=oeG] (oe) -- (652,705) coordinate (oeR);
\fill[oeG] (652,702.5) rectangle (695,708.5);
\draw[draw=black!35, line width=.45pt] (654,704.3) -- (693,704.3) (654,706.8) -- (690,706.8);
\stw{654}{709}{663}{718}
\draw[brn=oeG] (oe) -- (630,705) coordinate (oeL);
\fill[oeL] (613,703.8) rectangle (630,706.2);
\stk{618}{708}{627}{717}
\coordinate (oeL1) at (613,705);
\foreach \y/\w in {702/20,704.5/20,708/20,710.5/20,712.5/16}{\lfL{oeG}{oeL1}{608}{\y}{\w}}

% ---------------- panel titles
\node[ttl, fill=tFin, draw=pFin, minimum width=122pt, minimum height=20pt] (tiFin) at (179,188) {\ttltext{FINANCIAL CONTROL}};
\node[ttl, fill=tApp, draw=pApp, minimum width=105pt, minimum height=20pt] (tiApp) at (320.5,23) {\ttltext{APPLICATIONS}};
\node[ttl, fill=tPay, draw=pPay!85, minimum width=66pt, minimum height=19pt] (tiPay) at (301,136.5) {\ttltext{PAYMENTS}};
\node[ttl, fill=tFut, draw=pFut!85, minimum width=122pt, minimum height=19pt] (tiFut) at (661,22.5) {\ttltext{FUTURE TECHNOLOGY}};
\node[ttl, fill=tCC, draw=pCC, minimum width=96pt, minimum height=18pt] (tiCC) at (70,235.5) {\ttltext{CREDIT CARD}};
\node[ttl, fill=tBen, draw=pBen, minimum width=61pt, minimum height=19pt] (tiBen) at (471.5,231.5) {\ttltext{BENEFITS}};
\node[ttl, fill=tSup, draw=pSup, minimum width=80pt, minimum height=19pt] (tiSup) at (477,393.5) {\ttltext{SUPPORT}};
\node[ttl, fill=tAb, draw=pAb, minimum width=63pt, minimum height=19pt] (tiAb) at (160.5,468.5) {\ttltext{APP}};
\node[ttl, fill=tBec, draw=pBec!85, minimum width=131pt, minimum height=18pt] (tiBec) at (392.5,455.5) {\ttltext{BECOMING A CUSTOMER}};
\node[ttl, fill=tTru, draw=pTru!85, minimum width=88pt, minimum height=19pt] (tiTru) at (371,594.5) {\ttltext{TRUSTWORTHY}};
\node[ttl, fill=tWeb, draw=pWeb, minimum width=62pt, minimum height=19pt] (tiWeb) at (358,668.5) {\ttltext{WEBB}};
\node[ttl, fill=tOth, draw=pOth, minimum width=130pt, minimum height=18pt] (tiOth) at (621,670) {\ttltext{OTHER ENGAGEMENTS}};
\end{tikzpicture}
\end{document}
